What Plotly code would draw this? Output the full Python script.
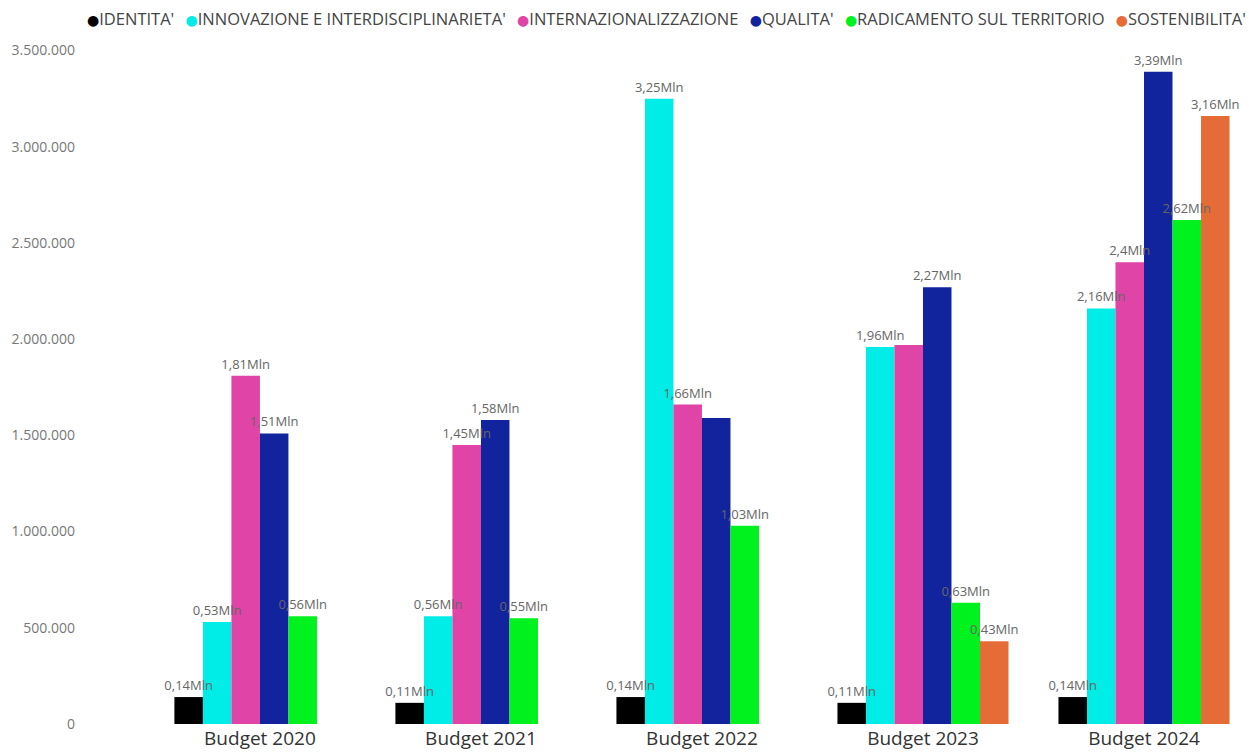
import plotly.graph_objects as go

# Budget allocated per strategic area (euro)
categories = ["Budget 2020", "Budget 2021", "Budget 2022", "Budget 2023", "Budget 2024"]

identita = [140000, 110000, 140000, 110000, 140000]
innovazione = [530000, 560000, 3250000, 1960000, 2160000]
internazionalizzazione = [1810000, 1450000, 1660000, 1970000, 2400000]
qualita = [1510000, 1580000, 1590000, 2270000, 3390000]
radicamento = [560000, 550000, 1030000, 630000, 2620000]
sostenibilita = [None, None, None, 430000, 3160000]

series_names = [
    "IDENTITA'",
    "INNOVAZIONE E INTERDISCIPLINARIETA'",
    "INTERNAZIONALIZZAZIONE",
    "QUALITA'",
    "RADICAMENTO SUL TERRITORIO",
    "SOSTENIBILITA'",
]
series_values = [identita, innovazione, internazionalizzazione, qualita, radicamento, sostenibilita]
series_colors = ["#000000", "#00ECE6", "#E044A7", "#12239E", "#00F21E", "#E66C37"]

# data labels that the report leaves out because they collide with neighbours
hidden_labels = {("QUALITA'", "Budget 2022"), ("INTERNAZIONALIZZAZIONE", "Budget 2023")}


def mln_label(v):
    s = f"{v / 1e6:.2f}".rstrip("0").rstrip(".")
    return s.replace(".", ",") + "Mln"


fig = go.Figure()

# bars
for name, vals, col in zip(series_names, series_values, series_colors):
    fig.add_trace(go.Bar(
        x=categories, y=vals, name=name, offsetgroup=name,
        marker=dict(color=col, line=dict(width=0)),
        showlegend=False, hoverinfo="skip",
    ))

# value labels drawn in a layer above every bar
for name, vals in zip(series_names, series_values):
    texts = []
    for cat, v in zip(categories, vals):
        if v is None or (name, cat) in hidden_labels:
            texts.append("")
        else:
            texts.append(mln_label(v))
    fig.add_trace(go.Bar(
        x=categories, y=vals, name=name, offsetgroup=name,
        marker=dict(color="rgba(0,0,0,0)", line=dict(width=0)),
        text=texts, textposition="outside", constraintext="none",
        textfont=dict(family="Open Sans", size=13, color="#666666"),
        cliponaxis=False, showlegend=False, hoverinfo="skip",
    ))

# legend line with coloured dots
legend_parts = []
for name, col in zip(series_names, series_colors):
    legend_parts.append(
        f"<span style='color:{col};font-size:14px;font-family:DejaVu Sans'>●</span>{name}"
    )
legend_text = "  \u2009".join(legend_parts)

fig.add_annotation(
    text=legend_text, xref="paper", yref="paper", x=1.0, y=1.0,
    xanchor="right", yanchor="middle", xshift=3, yshift=22, showarrow=False,
    font=dict(family="Open Sans", size=16.5, color="#444444"),
)

fig.update_layout(
    width=1249, height=754,
    margin=dict(l=84, r=4, t=40, b=30),
    paper_bgcolor="white", plot_bgcolor="white",
    barmode="group", bargap=0.226, bargroupgap=0,
    separators=",.",
    showlegend=False,
    font=dict(family="Open Sans"),
)
fig.update_xaxes(
    type="category", range=[-0.796, 4.457], automargin=False,
    showgrid=False, zeroline=False, showline=False, ticks="",
    ticklabelstandoff=1,
    tickfont=dict(family="Open Sans", size=19, color="#333333"),
)
fig.update_yaxes(
    range=[0, 3555000], tickmode="linear", tick0=0, dtick=500000, automargin=False,
    tickformat=",.0f", showgrid=False, zeroline=False, showline=False, ticks="",
    ticklabelstandoff=8,
    tickfont=dict(family="Open Sans", size=14, color="#777777"),
)

fig.write_html("out.html")
